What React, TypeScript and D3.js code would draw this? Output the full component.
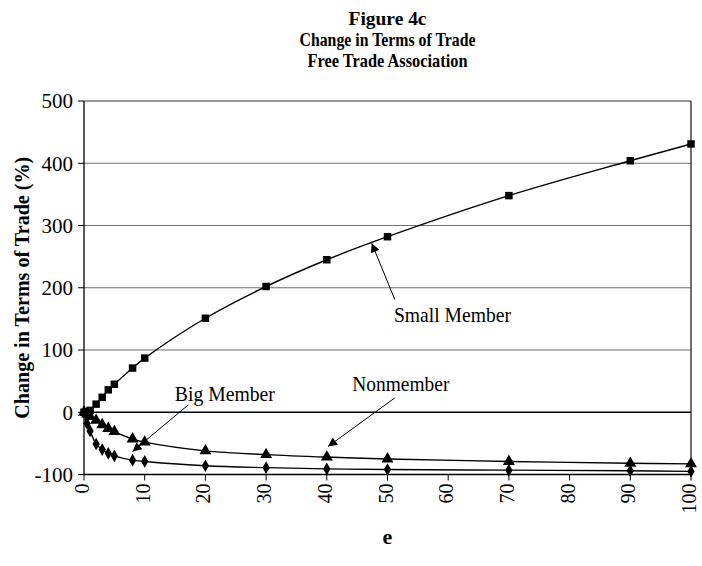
import React from "react";
import * as d3 from "d3";

const eValues = [0, 0.5, 1, 2, 3, 4, 5, 8, 10, 20, 30, 40, 50, 70, 90, 100];
const smallMember = [0, 1, 3, 13, 24, 36, 45, 71, 87, 151, 202, 245, 282, 348, 404, 431];
const nonmember = [0, -3, -7, -13, -20, -26, -31, -43, -48, -62, -68, -72, -75, -79, -82, -83];
const bigMember = [0, -18, -30, -51, -60, -66, -70, -77, -79, -86, -89, -91, -92, -93, -94, -95];

const xTicks = [0, 10, 20, 30, 40, 50, 60, 70, 80, 90, 100];
const yTicks = [-100, 0, 100, 200, 300, 400, 500];
const titleLines = ["Figure 4c", "Change in Terms of Trade", "Free Trade Association"];
const titleWidths = [78, 176, 160];

// annotations in data units: label position, arrow start, arrow end
const annLabels = ["Small Member", "Nonmember", "Big Member"];
const annWidths = [117, 97, 100];
const annText = [[60.7, 158], [52.2, 47], [23.2, 31]];
const annFrom = [[51.2, 181], [51.2, 23], [17.2, 12]];
const annTo = [[47.4, 271.6], [40.2, -55], [8, -63]];

const W = 702, H = 566;
const M = { left: 84, right: 691, top: 101, bottom: 474.5 };
const FONT = "'Liberation Serif', 'Times New Roman', serif";

export default function App() {
  const x = d3.scaleLinear().domain([0, 100]).range([M.left, M.right]);
  const y = d3.scaleLinear().domain([-100, 500]).range([M.bottom, M.top]);

  const line = d3
    .line<number>()
    .x((_, i) => x(eValues[i]))
    .y((d) => y(d))
    .curve(d3.curveCatmullRom.alpha(0.5));

  const series = [
    { data: smallMember, sym: d3.symbolSquare, size: 56 },
    { data: nonmember, sym: d3.symbolTriangle, size: 62 },
    { data: bigMember, sym: d3.symbolDiamond, size: 46 },
  ];

  return (
    <svg width={W} height={H} style={{ position: "absolute", left: 0, top: 0, background: "#fff" }}>
      <defs>
        <marker id="ah" viewBox="0 0 10 10" refX="10" refY="5" markerWidth="12" markerHeight="9" markerUnits="userSpaceOnUse" orient="auto">
          <path d="M0,0 L10,5 L0,10 z" fill="#000" />
        </marker>
      </defs>
      <rect x={0} y={0} width={W} height={H} fill="#fff" />
      {titleLines.map((t, i) => (
        <text key={t} x={(M.left + M.right) / 2} y={25 + i * 21} textAnchor="middle" fontFamily={FONT} fontWeight="bold" fontSize={19.5} textLength={titleWidths[i]} lengthAdjust="spacingAndGlyphs">
          {t}
        </text>
      ))}
      {/* gridlines */}
      {yTicks.filter((v) => v !== -100 && v !== 0 && v !== 500).map((v) => (
        <line key={v} x1={M.left} x2={M.right} y1={y(v)} y2={y(v)} stroke="#6e6e6e" strokeWidth={1} />
      ))}
      {/* border top/right */}
      <line x1={M.left} x2={M.right} y1={y(500)} y2={y(500)} stroke="#333" strokeWidth={1} />
      <line x1={M.right} x2={M.right} y1={y(500)} y2={y(-100)} stroke="#111" strokeWidth={1.2} />
      {/* zero line */}
      <line x1={M.left} x2={M.right} y1={y(0)} y2={y(0)} stroke="#000" strokeWidth={1.3} />
      {/* axes */}
      <line x1={M.left} x2={M.left} y1={y(500)} y2={y(-100)} stroke="#000" strokeWidth={1.3} />
      <line x1={M.left} x2={M.right} y1={y(-100)} y2={y(-100)} stroke="#000" strokeWidth={1.3} />
      {yTicks.map((v) => (
        <g key={v}>
          <line x1={M.left - 6} x2={M.left} y1={y(v)} y2={y(v)} stroke="#000" strokeWidth={1} />
          <text x={M.left - 11} y={y(v)} dy="0.35em" textAnchor="end" fontFamily={FONT} fontSize={21}>
            {v}
          </text>
        </g>
      ))}
      {xTicks.map((v) => (
        <g key={v}>
          <line x1={x(v)} x2={x(v)} y1={y(-100)} y2={y(-100) + 6} stroke="#000" strokeWidth={1} />
          <text transform={`translate(${x(v)},${y(-100) + 9}) rotate(-90)`} dy="0.25em" textAnchor="end" fontFamily={FONT} fontSize={20}>
            {v}
          </text>
        </g>
      ))}
      <text x={(M.left + M.right) / 2} y={544} textAnchor="middle" fontFamily={FONT} fontWeight="bold" fontSize={22}>
        e
      </text>
      <text transform={`translate(22,${(M.top + M.bottom) / 2}) rotate(-90)`} dy="0.35em" textAnchor="middle" fontFamily={FONT} fontWeight="bold" fontSize={21} textLength={262} lengthAdjust="spacingAndGlyphs">
        Change in Terms of Trade (%)
      </text>
      {series.map((s, si) => (
        <g key={si}>
          <path d={line(s.data) || ""} fill="none" stroke="#000" strokeWidth={1.4} />
          {s.data.map((v, i) => (
            <path key={i} transform={`translate(${x(eValues[i])},${y(v)})`} d={d3.symbol().type(s.sym).size(s.size)() || ""} fill="#000" />
          ))}
        </g>
      ))}
      {annLabels.map((t, i) => (
        <g key={t}>
          <line x1={x(annFrom[i][0])} y1={y(annFrom[i][1])} x2={x(annTo[i][0])} y2={y(annTo[i][1])} stroke="#000" strokeWidth={1} markerEnd="url(#ah)" />
          <text x={x(annText[i][0])} y={y(annText[i][1])} dy="0.35em" textAnchor="middle" fontFamily={FONT} fontSize={22} textLength={annWidths[i]} lengthAdjust="spacingAndGlyphs">
            {t}
          </text>
        </g>
      ))}
    </svg>
  );
}
